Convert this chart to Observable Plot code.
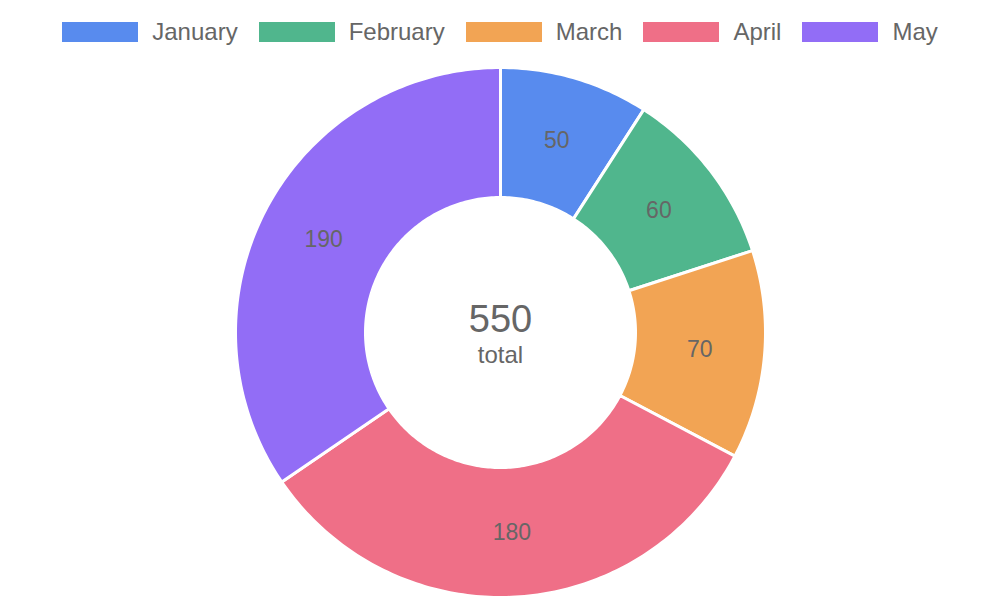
<!DOCTYPE html>
<html>
<head>
<meta charset="utf-8">
<script src="https://cdn.jsdelivr.net/npm/d3@7"></script>
<script src="https://cdn.jsdelivr.net/npm/@observablehq/plot@0.6"></script>
<style>
  html, body { margin: 0; padding: 0; background: #fff; }
  body { width: 1000px; height: 600px; overflow: hidden; font-family: "Liberation Sans", Arial, sans-serif; }
  #legend { height: 64px; display: flex; justify-content: center; align-items: center; }
  .item { display: flex; align-items: center; margin: 0 10.5px; }
  .sw { width: 76px; height: 20px; margin-right: 14px; }
  .lab { font-size: 24px; color: #666; }
  #chart svg { display: block; }
</style>
</head>
<body>
<div id="legend"></div>
<div id="chart"></div>
<script>
const months = ["January", "February", "March", "April", "May"];
const values = [50, 60, 70, 180, 190];
const colors = ["#588bee", "#50b68d", "#f2a454", "#ef6f87", "#926df6"];
const centerLabel = "total";

// legend
const legend = document.getElementById("legend");
months.forEach((m, i) => {
  const it = document.createElement("div");
  it.className = "item";
  const sw = document.createElement("div");
  sw.className = "sw";
  sw.style.background = colors[i];
  const lb = document.createElement("span");
  lb.className = "lab";
  lb.textContent = m;
  it.appendChild(sw); it.appendChild(lb);
  legend.appendChild(it);
});

const R_OUT = 265, R_IN = 135, R_LAB = 200;
const total = d3.sum(values);
const pie = d3.pie().sort(null).value(d => d.value)(months.map((m, i) => ({month: m, value: values[i]})));

// polygon points for each slice (geometry of the arc)
const pts = [];
pie.forEach(p => {
  const n = Math.max(8, Math.ceil((p.endAngle - p.startAngle) * 60));
  for (let k = 0; k <= n; k++) {
    const a = p.startAngle + (p.endAngle - p.startAngle) * k / n;
    pts.push({month: p.data.month, x: R_OUT * Math.sin(a), y: R_OUT * Math.cos(a)});
  }
  for (let k = n; k >= 0; k--) {
    const a = p.startAngle + (p.endAngle - p.startAngle) * k / n;
    pts.push({month: p.data.month, x: R_IN * Math.sin(a), y: R_IN * Math.cos(a)});
  }
});
const labels = pie.map(p => {
  const a = (p.startAngle + p.endAngle) / 2;
  return {label: String(p.data.value), x: R_LAB * Math.sin(a), y: R_LAB * Math.cos(a)};
});

const H = 536;
const chart = Plot.plot({
  width: 1000,
  height: H,
  margin: 0,
  x: {domain: [-500, 500], axis: null},
  y: {domain: [-H / 2, H / 2], axis: null},
  color: {domain: months, range: colors},
  style: {fontFamily: "'Liberation Sans', Arial, sans-serif", background: "#fff"},
  marks: [
    Plot.line(pts, {x: "x", y: "y", z: "month", fill: "month", stroke: "#fff", strokeWidth: 3, curve: "linear-closed"}),
    Plot.text(labels, {x: "x", y: "y", text: "label", fill: "#666", fontSize: 23}),
    Plot.text([String(total)], {x: () => 0, y: () => 0, text: d => d, fill: "#666", fontSize: 38, dy: -13}),
    Plot.text([centerLabel], {x: () => 0, y: () => 0, text: d => d, fill: "#666", fontSize: 24, dy: 23})
  ]
});
document.getElementById("chart").appendChild(chart);
</script>
</body>
</html>
